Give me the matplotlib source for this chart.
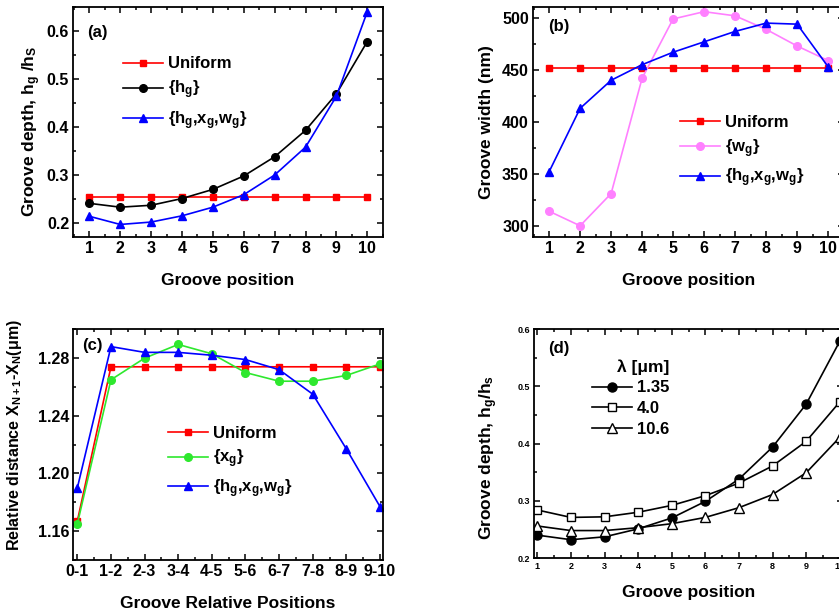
import matplotlib
matplotlib.use("Agg")
import matplotlib.pyplot as plt
from matplotlib.ticker import MultipleLocator

plt.rcParams['font.family'] = ['Liberation Sans', 'DejaVu Sans']
plt.rcParams['font.weight'] = 'bold'
plt.rcParams['axes.labelweight'] = 'bold'
plt.rcParams['mathtext.fontset'] = 'custom'
plt.rcParams['mathtext.rm'] = 'Liberation Sans:bold'
plt.rcParams['mathtext.it'] = 'Liberation Sans:bold'
plt.rcParams['mathtext.bf'] = 'Liberation Sans:bold'
plt.rcParams['mathtext.default'] = 'regular'

# ---------------- data ----------------
positions = [1, 2, 3, 4, 5, 6, 7, 8, 9, 10]

# (a) groove depth
depth_uniform = [0.254] * 10
depth_hg = [0.241, 0.233, 0.237, 0.251, 0.270, 0.298, 0.338, 0.393, 0.469, 0.578]
depth_hxw = [0.214, 0.197, 0.202, 0.215, 0.233, 0.259, 0.300, 0.358, 0.464, 0.640]

# (b) groove width (nm)
width_uniform = [452] * 10
width_wg = [314, 300, 331, 442, 499, 506, 502, 489, 473, 459]
width_hxw = [352, 413, 440, 455, 467, 477, 487, 495, 494, 453]

# (c) relative distance (um)
rel_labels = ['0-1', '1-2', '2-3', '3-4', '4-5', '5-6', '6-7', '7-8', '8-9', '9-10']
dist_uniform = [1.167, 1.274, 1.274, 1.274, 1.274, 1.274, 1.274, 1.274, 1.274, 1.274]
dist_xg = [1.165, 1.265, 1.280, 1.2895, 1.283, 1.270, 1.264, 1.264, 1.268, 1.276]
dist_hxw = [1.190, 1.288, 1.284, 1.284, 1.282, 1.279, 1.272, 1.255, 1.217, 1.177]

# (d) groove depth vs wavelength
lam_labels = ['1.35', '4.0', '10.6']
depth_135 = [0.240, 0.232, 0.237, 0.251, 0.270, 0.299, 0.338, 0.394, 0.469, 0.579]
depth_40 = [0.284, 0.271, 0.272, 0.280, 0.292, 0.309, 0.331, 0.361, 0.404, 0.473]
depth_106 = [0.256, 0.248, 0.248, 0.253, 0.260, 0.271, 0.288, 0.311, 0.349, 0.411]

# ---------------- figure ----------------
W, H = 839, 613
fig = plt.figure(figsize=(W / 100, H / 100), dpi=100)


def add_ax(left, top, right, bottom):
    return fig.add_axes([left / W, 1 - bottom / H, (right - left) / W, (bottom - top) / H])


def style(ax, xmaj, xmin, ymaj, ymin, size):
    ax.xaxis.set_major_locator(MultipleLocator(xmaj))
    ax.xaxis.set_minor_locator(MultipleLocator(xmin))
    ax.yaxis.set_major_locator(MultipleLocator(ymaj))
    ax.yaxis.set_minor_locator(MultipleLocator(ymin))
    ax.tick_params(which='both', direction='in', top=True, right=True, width=1.1)
    ax.tick_params(which='major', length=4.5, labelsize=size, pad=3)
    ax.tick_params(which='minor', length=2.5)
    for s in ax.spines.values():
        s.set_linewidth(1.3)


RED = '#ff0000'
BLUE = '#0000ff'
PINK = '#ff80ff'
GREEN = '#2ee82e'
lw = 1.2
legkw = dict(loc='upper left', frameon=False, fontsize=12, borderpad=0, borderaxespad=0,
             handlelength=2.4, handletextpad=0.3)

# ---- (a) ----
axa = add_ax(73.3, 7, 382.7, 236.7)
axa.plot(positions, depth_uniform, color=RED, marker='s', ms=5, lw=lw, label='Uniform')
axa.plot(positions, depth_hg, color='black', marker='o', ms=5.5, lw=lw, label='{h$_g$}')
axa.plot(positions, depth_hxw, color=BLUE, marker='^', ms=6, lw=lw, label='{h$_g$,x$_g$,w$_g$}')
axa.set_xlim(0.48, 10.5)
axa.set_ylim(0.1715, 0.65)
style(axa, 1, 0.5, 0.1, 0.05, 11.5)
axa.set_xlabel('Groove position', fontsize=12.5, labelpad=12)
axa.set_ylabel('Groove depth, h$_g$ /h$_S$', fontsize=12.5)
axa.yaxis.set_label_coords(-0.098, 0.46)
axa.text(0.045, 0.89, '(a)', transform=axa.transAxes, fontsize=12, va='center')
axa.legend(bbox_to_anchor=(0.16, 0.785), labelspacing=0.45, **legkw)

# ---- (b) ----
axb = add_ax(533, 7, 843.6, 236.7)
axb.plot(positions, width_uniform, color=RED, marker='s', ms=5, lw=lw, label='Uniform')
axb.plot(positions, width_wg, color=PINK, marker='o', ms=5.5, lw=lw, label='{w$_g$}')
axb.plot(positions, width_hxw, color=BLUE, marker='^', ms=6, lw=lw, label='{h$_g$,x$_g$,w$_g$}')
axb.set_xlim(0.48, 10.5)
axb.set_ylim(289.5, 510.5)
style(axb, 1, 0.5, 50, 25, 11.5)
axb.set_xlabel('Groove position', fontsize=12.5, labelpad=12)
axb.set_ylabel('Groove width (nm)', fontsize=12.5, labelpad=6)
axb.text(0.05, 0.915, '(b)', transform=axb.transAxes, fontsize=12, va='center')
axb.legend(bbox_to_anchor=(0.473, 0.53), labelspacing=0.42, **legkw)

# ---- (c) ----
axc = add_ax(73.3, 329.3, 382.7, 560)
xc = list(range(len(rel_labels)))
axc.plot(xc, dist_uniform, color=RED, marker='s', ms=5, lw=lw, label='Uniform')
axc.plot(xc, dist_xg, color=GREEN, marker='o', ms=5.5, lw=lw, label='{x$_g$}')
axc.plot(xc, dist_hxw, color=BLUE, marker='^', ms=6, lw=lw, label='{h$_g$,x$_g$,w$_g$}')
axc.set_xlim(-0.12, 9.08)
axc.set_ylim(1.14, 1.30)
style(axc, 1, 0.5, 0.04, 0.02, 11.5)
axc.set_xticks(xc)
axc.set_xticklabels(rel_labels)
axc.set_xlabel('Groove Relative Positions', fontsize=12.5, labelpad=12)
axc.set_ylabel('Relative distance X$_{N+1}$-X$_N$(\u03bcm)', fontsize=11.5)
axc.yaxis.set_label_coords(-0.16, 0.54)
axc.text(0.03, 0.93, '(c)', transform=axc.transAxes, fontsize=12, va='center')
axc.legend(bbox_to_anchor=(0.306, 0.58), labelspacing=0.4, **legkw)

# ---- (d) ----
axd = add_ax(534.3, 329.3, 843.1, 558)
axd.plot(positions, depth_135, color='black', marker='o', ms=6.5, lw=lw, label=lam_labels[0])
axd.plot(positions, depth_40, color='black', marker='s', ms=5.5, mfc='white', lw=lw, label=lam_labels[1])
axd.plot(positions, depth_106, color='black', marker='^', ms=6.5, mfc='white', lw=lw, label=lam_labels[2])
axd.set_xlim(0.91, 10.1)
axd.set_ylim(0.2, 0.6)
style(axd, 1, 0.5, 0.1, 0.05, 6.5)
axd.set_xlabel('Groove position', fontsize=12.5, labelpad=10)
axd.set_ylabel('Groove depth, h$_g$/h$_s$', fontsize=12.5)
axd.yaxis.set_label_coords(-0.11, 0.44)
axd.text(0.045, 0.915, '(d)', transform=axd.transAxes, fontsize=12, va='center')
leg = axd.legend(bbox_to_anchor=(0.186, 0.87), title='\u03bb [\u03bcm]', title_fontsize=12.5,
                 labelspacing=0.35, alignment='right', **legkw)
leg.get_title().set_fontweight('bold')

fig.savefig('out.png', dpi=100)
